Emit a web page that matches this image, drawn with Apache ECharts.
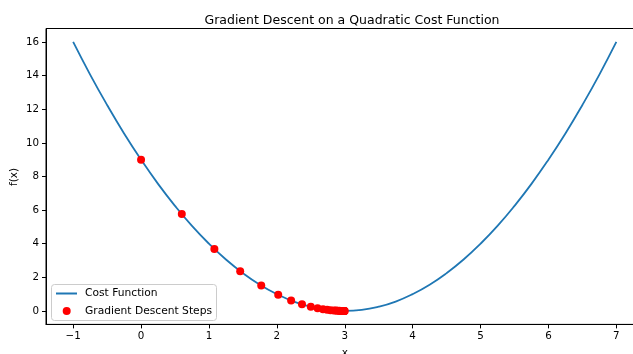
<!DOCTYPE html>
<html><head><meta charset="utf-8">
<script src="https://cdn.jsdelivr.net/npm/echarts@6/dist/echarts.min.js"></script>
<style>html,body{margin:0;padding:0;background:#fff}#c{width:633px;height:354px}</style>
</head><body><div id="c"></div>
<script>
const curveX = [-1,-0.75,-0.5,-0.25,0,0.25,0.5,0.75,1,1.25,1.5,1.75,2,2.25,2.5,2.75,3,3.25,3.5,3.75,4,4.25,4.5,4.75,5,5.25,5.5,5.75,6,6.25,6.5,6.75,7];
const curveY = [16,14.06,12.25,10.56,9,7.56,6.25,5.06,4,3.06,2.25,1.56,1,0.56,0.25,0.06,0,0.06,0.25,0.56,1,1.56,2.25,3.06,4,5.06,6.25,7.56,9,10.56,12.25,14.06,16];
const stepX = [0,0.6,1.08,1.46,1.77,2.02,2.21,2.37,2.50,2.60,2.68,2.74,2.79,2.84,2.87,2.89,2.92,2.93,2.95,2.96,2.97,2.97,2.98,2.98,2.99,2.99,2.99,2.99,2.99,3.0];
const stepY = [9,5.76,3.69,2.36,1.51,0.97,0.62,0.40,0.25,0.16,0.10,0.07,0.04,0.03,0.02,0.01,0.01,0.0,0.0,0.0,0.0,0.0,0.0,0.0,0.0,0.0,0.0,0.0,0.0,0.0];
const xTicks = [-1,0,1,2,3,4,5,6,7];
const yTicks = [0,2,4,6,8,10,12,14,16];

const F = 'DejaVu Sans';
const fmt = v => (v < 0 ? '\u2212' + Math.abs(v) : String(v));
const chart = echarts.init(document.getElementById('c'), null, {renderer:'canvas'});
chart.setOption({
  animation:false,
  backgroundColor:'#fff',
  title:{text:'Gradient Descent on a Quadratic Cost Function', left:347, top:9, textAlign:'center',
    textStyle:{fontFamily:F, fontSize:12.5, fontWeight:'normal', color:'#000'}},
  grid:{left:46, top:28.5, right:-10.5, bottom:29.6, containLabel:false, outerBoundsMode:'none',
    show:true, borderColor:'#000', borderWidth:1, backgroundColor:'transparent'},
  legend:[
    {data:[{name:'Cost Function', icon:'rect'}], left:56, top:288, padding:0, itemWidth:21, itemHeight:2, itemGap:0, z:4,
      textStyle:{fontFamily:F, fontSize:10.7, color:'#000', padding:[0,0,0,3]}},
    {data:[{name:'Gradient Descent Steps', icon:'circle'}], left:62.7, top:305.5, padding:0, itemWidth:8, itemHeight:8, z:4,
      textStyle:{fontFamily:F, fontSize:10.7, color:'#000', padding:[0,0,0,9.3]}}
  ],
  graphic:[
    {type:'rect', shape:{x:51.5, y:284.5, width:165, height:36, r:3}, z:3,
      style:{fill:'rgba(255,255,255,0.8)', stroke:'#ccc', lineWidth:1}},
    {type:'text', x:14, y:177, rotation:Math.PI/2, z:3,
      style:{text:'f(x)', fontFamily:F, fontSize:10.5, fill:'#000', align:'center', verticalAlign:'middle',
        textAlign:'center', textVerticalAlign:'middle'}}
  ],
  xAxis:{type:'value', min:-1.4, max:7.4, name:'x', nameLocation:'middle', nameGap:23, nameMoveOverlap:false,
    nameTextStyle:{fontFamily:F, fontSize:10.5, color:'#000'},
    splitLine:{show:false},
    axisLine:{show:true, onZero:false, lineStyle:{color:'#000'}},
    axisTick:{show:true, customValues:xTicks, length:4, lineStyle:{color:'#000'}},
    axisLabel:{customValues:xTicks, formatter:fmt, fontFamily:F, fontSize:10.3, color:'#000', margin:7}},
  yAxis:{type:'value', min:-0.8, max:16.8,
    splitLine:{show:false},
    axisLine:{show:true, onZero:false, lineStyle:{color:'#000'}},
    axisTick:{show:true, customValues:yTicks, length:4, lineStyle:{color:'#000'}},
    axisLabel:{customValues:yTicks, formatter:fmt, fontFamily:F, fontSize:10.3, color:'#000', margin:7}},
  series:[
    {name:'Cost Function', type:'line', data:curveX.map((x,i)=>[x,curveY[i]]), showSymbol:false, smooth:true,
      lineStyle:{color:'#1f77b4', width:1.8}, itemStyle:{color:'#1f77b4'}, z:2},
    {name:'Gradient Descent Steps', type:'scatter', data:stepX.map((x,i)=>[x,stepY[i]]), symbolSize:8,
      itemStyle:{color:'#ff0000', opacity:1}, z:2.5}
  ]
});
</script></body></html>
